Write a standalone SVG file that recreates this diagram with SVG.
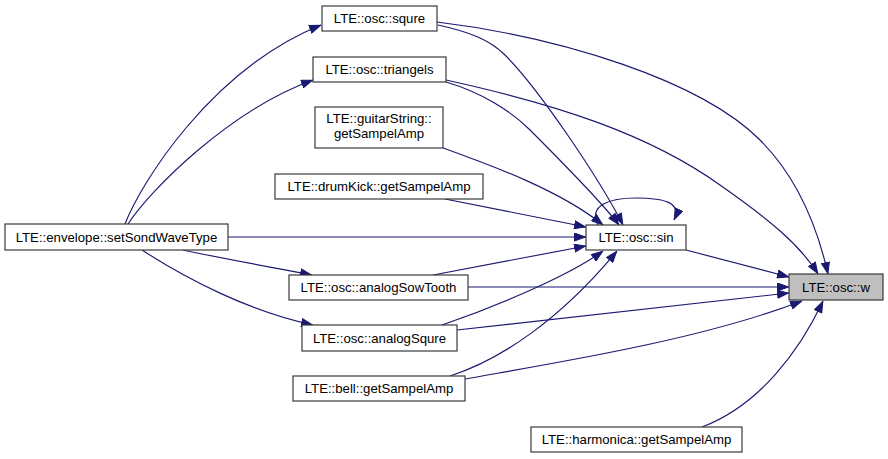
<svg xmlns="http://www.w3.org/2000/svg" width="888" height="459" viewBox="0 0 888 459">
<style>
.node rect{fill:#ffffff;stroke:#3a3a3a;stroke-width:1.2}
.node.hl rect{fill:#bfbfbf}
.node text{font-family:"Liberation Sans",Arial,sans-serif;font-size:13.2px;fill:#000000;text-anchor:middle}
.edges path{fill:none;stroke:#191970;stroke-width:1.15;marker-end:url(#ah)}
</style>
<defs>
<marker id="ah" viewBox="0 0 12 9" refX="12" refY="4.5" markerWidth="12" markerHeight="9" markerUnits="userSpaceOnUse" orient="auto">
<path d="M0.5,0.5 L11.5,4.5 L0.5,8.5 z" fill="#191970" stroke="#191970" stroke-width="1"/>
</marker>
</defs>
<rect width="888" height="459" fill="#ffffff"/>
<g class="edges" id="edges">
<path d="M125,224 C140,185 210,70 321,25"/>
<path d="M128,224 C150,190 230,110 313,80"/>
<path d="M228,237 L586,237"/>
<path d="M183,250 C220,258 270,267 312,275"/>
<path d="M142,250 C185,278 250,312 313,325"/>
<path d="M438,25 C470,32 490,40 505,55 C540,90 600,180 623,225"/>
<path d="M437,22 C560,37 700,80 760,140 C800,180 818,230 828,274"/>
<path d="M446,82 C480,92 510,110 530,130 C560,160 600,200 619,225"/>
<path d="M446,80 C560,105 650,135 720,185 C770,220 800,245 818,274"/>
<path d="M443,148 C490,165 560,190 603,225"/>
<path d="M445,199 L586,227"/>
<path d="M598,225 C588,205 610,198 636,198 C665,198 682,203 674,220"/>
<path d="M686,250 L789,277"/>
<path d="M433,275 L586,246"/>
<path d="M468,287 L789,287"/>
<path d="M442,325 C500,305 570,275 603,251"/>
<path d="M457,330 L789,293"/>
<path d="M450,376 C500,360 560,320 617,251"/>
<path d="M465,379 C560,362 700,340 802,301"/>
<path d="M702,427 C760,405 800,350 823,301"/>
</g>
<g class="node" id="node-squre"><rect x="322" y="6" width="115" height="25"/><text x="379.5" y="23">LTE::osc::squre</text></g>
<g class="node" id="node-triangels"><rect x="313" y="57" width="133" height="25"/><text x="379.5" y="74">LTE::osc::triangels</text></g>
<g class="node" id="node-guitarString"><rect x="315" y="107" width="128" height="41"/><text x="379" y="123">LTE::guitarString::</text><text x="379" y="138">getSampelAmp</text></g>
<g class="node" id="node-drumKick"><rect x="275" y="174" width="208" height="25"/><text x="379" y="191">LTE::drumKick::getSampelAmp</text></g>
<g class="node" id="node-envelope"><rect x="5" y="224" width="223" height="26"/><text x="116.5" y="241.5">LTE::envelope::setSondWaveType</text></g>
<g class="node" id="node-sin"><rect x="586" y="225" width="100" height="25"/><text x="636" y="242">LTE::osc::sin</text></g>
<g class="node" id="node-analogSowTooth"><rect x="289" y="275" width="179" height="25"/><text x="378.5" y="292">LTE::osc::analogSowTooth</text></g>
<g class="node" id="node-analogSqure"><rect x="302" y="325" width="155" height="26"/><text x="379.5" y="342.5">LTE::osc::analogSqure</text></g>
<g class="node" id="node-bell"><rect x="293" y="376" width="172" height="25"/><text x="379" y="393">LTE::bell::getSampelAmp</text></g>
<g class="node" id="node-harmonica"><rect x="531" y="427" width="211" height="25"/><text x="636.5" y="444">LTE::harmonica::getSampelAmp</text></g>
<g class="node hl" id="node-w"><rect x="789" y="274" width="94" height="26"/><text x="836" y="291.5">LTE::osc::w</text></g>
</svg>
